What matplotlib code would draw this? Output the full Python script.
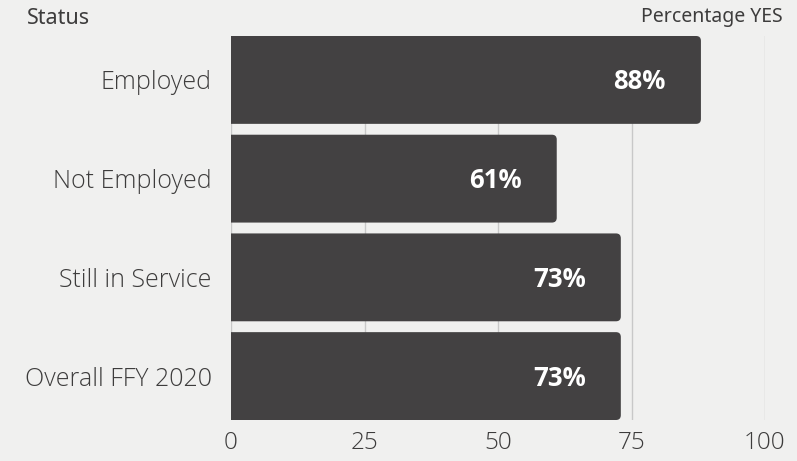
import matplotlib.pyplot as plt
from matplotlib.patches import FancyBboxPatch

# Data
categories = ['Employed', 'Not Employed', 'Still in Service', 'Overall FFY 2020']
values = [88, 61, 73, 73]
value_labels = ['88%', '61%', '73%', '73%']
ticks = [0, 25, 50, 75, 100]

bg = '#f0f0ef'
bar_color = '#434142'
text_color = '#3d3c3c'

fig = plt.figure(figsize=(7.97, 4.61), dpi=100, facecolor=bg)
ax = fig.add_axes([231 / 797, 1 - 420 / 461, 534 / 797, 384 / 461], facecolor=bg)

ypos = list(range(len(categories)))
h = 0.89
# rounded bar ends (left edge hidden below 0)
aspect = (3.89 / 384) / (100 / 534)
for y, v in zip(ypos, values):
    p = FancyBboxPatch((-3, y - h / 2), v + 3, h,
                       boxstyle='round,pad=0,rounding_size=0.9',
                       mutation_aspect=aspect,
                       facecolor=bar_color, edgecolor='none', zorder=2)
    ax.add_patch(p)

for y, v, lab in zip(ypos, values, value_labels):
    ax.text(v - 11.5, y + 0.02, lab, ha='center', va='center', color='white',
            fontsize=18.5, fontweight='bold', family='Open Sans', zorder=3)

ax.set_xlim(0, 100)
ax.set_ylim(len(categories) - 0.555, -0.445)
ax.set_xticks(ticks)
ax.set_xticklabels([str(t) for t in ticks], fontsize=17.5, color=text_color,
                   family='Open Sans', fontweight='light')
ax.set_yticks(ypos)
ax.set_yticklabels(categories, fontsize=18, color=text_color,
                   family='Open Sans', fontweight='light')
ax.tick_params(length=0, pad=14)
ax.tick_params(axis='x', pad=8)
ax.grid(axis='x', color='#c8c8c8', linewidth=1, zorder=0)
for s in ax.spines.values():
    s.set_visible(False)

fig.text(27 / 797, 1 - 19 / 461, 'Status', fontsize=15.5, fontweight='semibold',
         color=text_color, family='Noto Sans', va='center', ha='left')
fig.text(783 / 797, 1 - 17 / 461, 'Percentage YES', fontsize=14, fontweight='medium',
         color=text_color, family='Noto Sans', va='center', ha='right')

fig.savefig('out.png', dpi=100, facecolor=bg)
